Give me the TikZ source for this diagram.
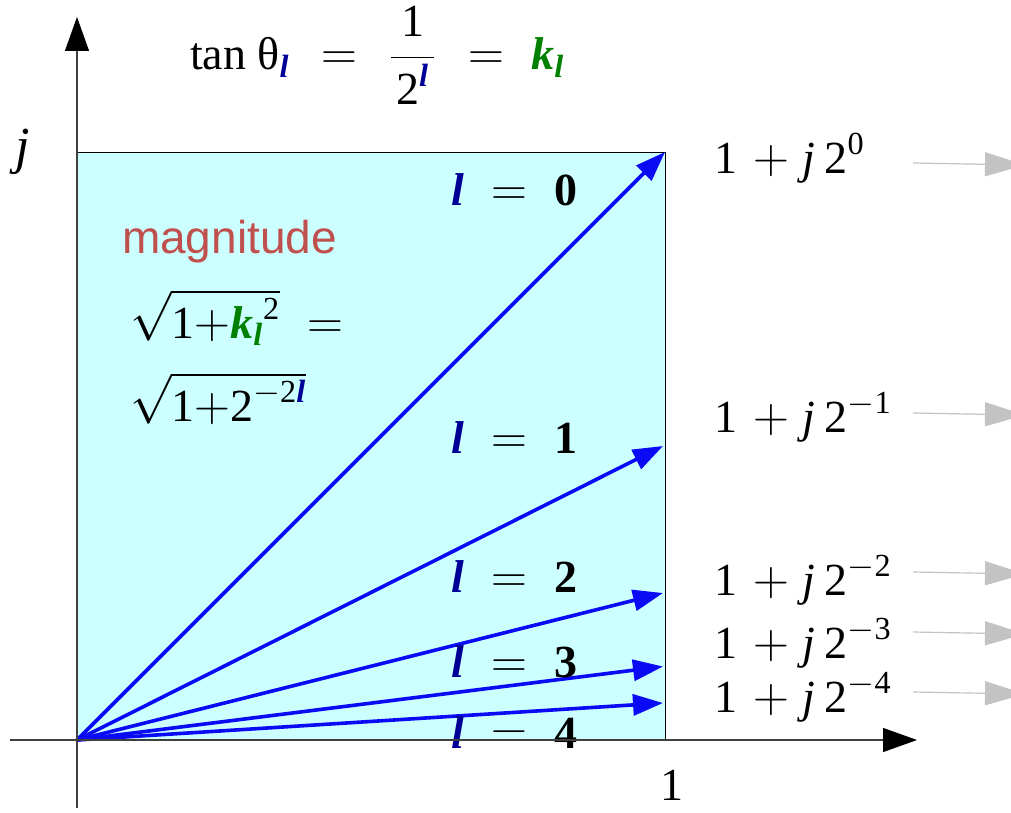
\documentclass[tikz,border=0pt]{standalone}
\usepackage{fontspec}
\setmainfont{Liberation Serif}
\newfontfamily\magfont{Liberation Sans}
\usepackage{xcolor}
\usetikzlibrary{positioning, arrows.meta}
\definecolor{lnavy}{RGB}{0,0,150}
\definecolor{kgreen}{RGB}{0,128,0}
\definecolor{magred}{RGB}{192,80,77}
\definecolor{sqcyan}{RGB}{204,255,255}
\definecolor{vblue}{RGB}{10,10,245}
\definecolor{agray}{RGB}{195,195,195}
\newcommand{\lidx}{\textcolor{lnavy}{\bfseries\itshape l}}
\newcommand{\kidx}{\textcolor{kgreen}{\bfseries\itshape k\textsubscript{l}}}
\newcommand{\eqs}{\hspace{.6em}\(=\)\hspace{.6em}}
\newcommand{\mns}{\(-\)}
\newcommand{\pt}[1]{1\hspace{.35em}\(+\)\hspace{.3em}\textit{j}\hspace{.2em}2\textsuperscript{#1}}

\begin{document}
\begin{tikzpicture}[
  x=0.5pt, y=-0.5pt,
  every node/.style={inner sep=0pt, outer sep=0pt, font=\fontsize{23}{27}\selectfont},
  lab/.style={anchor=base west},
  ax/.style={draw=black!75, line width=0.6pt, -{Triangle[length=17pt, width=12pt, black]}},
  vec/.style={draw=vblue, line width=1.8pt, -{Triangle[length=15pt, width=10.5pt]}},
  gry/.style={draw=agray, line width=0.6pt, -{Triangle[length=20pt, width=12pt]}},
  lv/.style={lab},
]
  \useasboundingbox (0,0) rectangle (1011,813);
  \filldraw[fill=sqcyan, draw=black, line width=0.5pt] (77,152) rectangle (665,740);

  \coordinate (O) at (77,740);
  \coordinate (t0) at (665,152);
  \coordinate (t1) at (663,446);
  \coordinate (t2) at (663,593);
  \coordinate (t3) at (663,666.5);
  \coordinate (t4) at (663,703);

  % title and magnitude
  \node[lab] (tit) at (190,70) {tan θ\textsubscript{\lidx}\hspace{2pt}\eqs\hspace{2pt}%
    \(\displaystyle\frac{\mbox{1}}{\mbox{\hspace{2.5pt}2\textsuperscript{\lidx}\hspace{2.5pt}}}\)\hspace{2pt}\eqs\kidx};
  \node[lab, font=\magfont\fontsize{23}{27}\selectfont, text=magred] (mag) at (122,253) {magnitude};
  \node[lab] (sq1) at (130,338) {\(\sqrt{\mbox{\rule{0pt}{22pt}1\(+\)\raisebox{0pt}[\height][0pt]{\kidx}\textsuperscript{2}}}\)\hspace{.6em}\(=\)};
  \node[lab] (sq2) at (130,421) {\(\sqrt{\mbox{\rule{0pt}{22pt}1\(+\)2\textsuperscript{\mns2\lidx}}}\)};

  % vectors
  \draw[vec] (O) -- (t0);
  \draw[vec] (O) -- (t1);
  \draw[vec] (O) -- (t2);
  \draw[vec] (O) -- (t3);
  \draw[vec] (O) -- (t4);

  \node[lv] (l0) at (451,205) {\lidx\eqs\textbf{0}};
  \node[lv] (l1) at (451,453) {\lidx\eqs\textbf{1}};
  \node[lv] (l2) at (451,592) {\lidx\eqs\textbf{2}};
  \node[lv] (l3) at (451,677) {\lidx\eqs\textbf{3}};
  \node[lv] (l4) at (451,748) {\lidx\eqs\textbf{4}};

  % axes
  \coordinate (xs) at (10,740);
  \coordinate (xe) at (917,740);
  \coordinate (ys) at (77,808);
  \coordinate (ye) at (77,17);
  \draw[ax] (xs) -- (xe);
  \draw[ax] (ys) -- (ye);
  \node[lab, font=\fontsize{26}{30}\selectfont] (jlab) at (16,163) {\textit{j}};
  \node[lab] (one) at (660,800) {1};

  % points on the right
  \node[lab] (r0) at (714,173) {\pt{0}};
  \node[lab] (r1) at (714,432) {\pt{\mns1}};
  \node[lab] (r2) at (714,595) {\pt{\mns2}};
  \node[lab] (r3) at (714,658) {\pt{\mns3}};
  \node[lab] (r4) at (714,712) {\pt{\mns4}};
  \coordinate (g0) at (913,163); \coordinate (h0) at (1025,165);
  \coordinate (g1) at (913,413); \coordinate (h1) at (1025,415);
  \coordinate (g2) at (913,572); \coordinate (h2) at (1025,574);
  \coordinate (g3) at (913,632); \coordinate (h3) at (1025,634);
  \coordinate (g4) at (913,692); \coordinate (h4) at (1025,694);
  \draw[gry] (g0) -- (h0);
  \draw[gry] (g1) -- (h1);
  \draw[gry] (g2) -- (h2);
  \draw[gry] (g3) -- (h3);
  \draw[gry] (g4) -- (h4);
\end{tikzpicture}
\end{document}
